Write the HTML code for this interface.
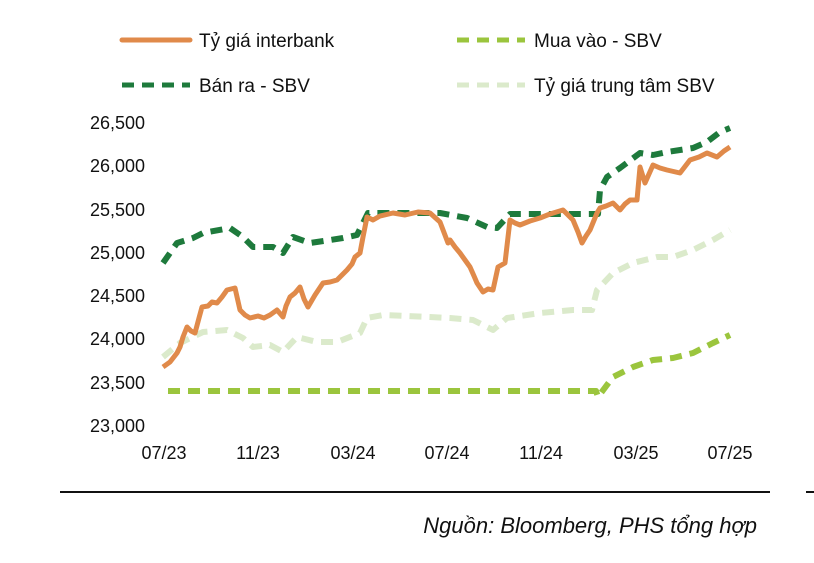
<!DOCTYPE html>
<html><head><meta charset="utf-8"><style>
body{margin:0;background:#fff;}
svg text{font-family:"Liberation Sans",sans-serif;fill:#111;}
</style></head><body>
<svg width="814" height="558" viewBox="0 0 814 558" xmlns="http://www.w3.org/2000/svg">
<g stroke-width="5" fill="none" stroke-linecap="round">
<line x1="122" y1="40" x2="190" y2="40" stroke="#e08a4a"/>
<line x1="457" y1="40" x2="525" y2="40" stroke="#9bc53d" stroke-dasharray="12 8" stroke-linecap="butt"/>
<line x1="122" y1="85" x2="190" y2="85" stroke="#1e7a3c" stroke-dasharray="12 8" stroke-linecap="butt"/>
<line x1="457" y1="85" x2="525" y2="85" stroke="#dbeacb" stroke-dasharray="12 8" stroke-linecap="butt"/>
</g>
<g font-size="19">
<text x="199" y="47">Tỷ giá interbank</text>
<text x="534" y="47">Mua vào - SBV</text>
<text x="199" y="92">Bán ra - SBV</text>
<text x="534" y="92">Tỷ giá trung tâm SBV</text>
</g>
<g font-size="18" text-anchor="end">
<text x="145" y="129">26,500</text>
<text x="145" y="172">26,000</text>
<text x="145" y="216">25,500</text>
<text x="145" y="259">25,000</text>
<text x="145" y="302">24,500</text>
<text x="145" y="345">24,000</text>
<text x="145" y="389">23,500</text>
<text x="145" y="432">23,000</text>
</g>
<g font-size="18" text-anchor="middle">
<text x="164" y="459">07/23</text>
<text x="258" y="459">11/23</text>
<text x="353" y="459">03/24</text>
<text x="447" y="459">07/24</text>
<text x="541" y="459">11/24</text>
<text x="636" y="459">03/25</text>
<text x="730" y="459">07/25</text>
</g>
<g fill="none" stroke-width="6" stroke-linejoin="round">
<polyline stroke="#dbeacb" stroke-dasharray="12 8" points="163,357 180,343 203,332 227,330 243,338 253,347 270,345 283,352 297,337 317,342 337,342 360,333 367,318 383,315 430,317 450,318 473,320 493,330 507,318 540,313 573,310 592,310 597,290 613,273 633,263 657,257 673,257 693,250 713,240 730,230"/>
<polyline stroke="#9bc53d" stroke-dasharray="12 8" points="168,391 596,391 598,397 613,377 633,367 653,360 673,358 693,353 713,343 730,335"/>
<polyline stroke="#1e7a3c" stroke-dasharray="12 8" points="163,263 177,243 193,238 203,233 230,228 243,237 253,247 273,247 283,253 293,237 310,243 330,240 343,238 357,235 363,223 368,213 440,213 467,218 487,227 497,228 510,214 598,214 600,190 607,177 620,168 640,153 653,155 667,152 693,148 707,142 720,132 730,128"/>
<polyline stroke="#e08a4a" stroke-width="5" points="163,367 170,362 177,353 180,347 183,337 187,327 191,331 195,333 199,318 202,307 208,306 212,302 217,303 222,297 227,290 235,288 240,310 245,315 250,318 258,316 264,318 270,315 277,310 283,317 286,306 290,297 295,293 300,287 304,299 308,307 315,295 323,283 330,282 337,280 343,274 347,270 352,264 355,257 360,253 363,237 367,217 373,220 380,216 393,213 405,215 418,212 430,213 440,222 448,243 450,240 455,247 460,253 465,260 470,267 474,276 477,283 483,292 488,289 493,290 498,267 505,263 510,220 515,223 520,225 530,221 540,218 550,214 563,210 573,220 578,232 582,243 586,236 590,230 597,213 600,208 606,206 613,203 620,210 625,204 630,200 637,200 640,167 645,183 653,165 660,168 667,170 680,173 690,160 699,157 707,153 717,157 724,151 730,147"/>
</g>
<line x1="60" y1="492" x2="770" y2="492" stroke="#111" stroke-width="2"/>
<line x1="806" y1="492" x2="814" y2="492" stroke="#111" stroke-width="2"/>
<text x="757" y="533" font-size="22" font-style="italic" text-anchor="end">Nguồn: Bloomberg, PHS tổng hợp</text>
</svg>
</body></html>
